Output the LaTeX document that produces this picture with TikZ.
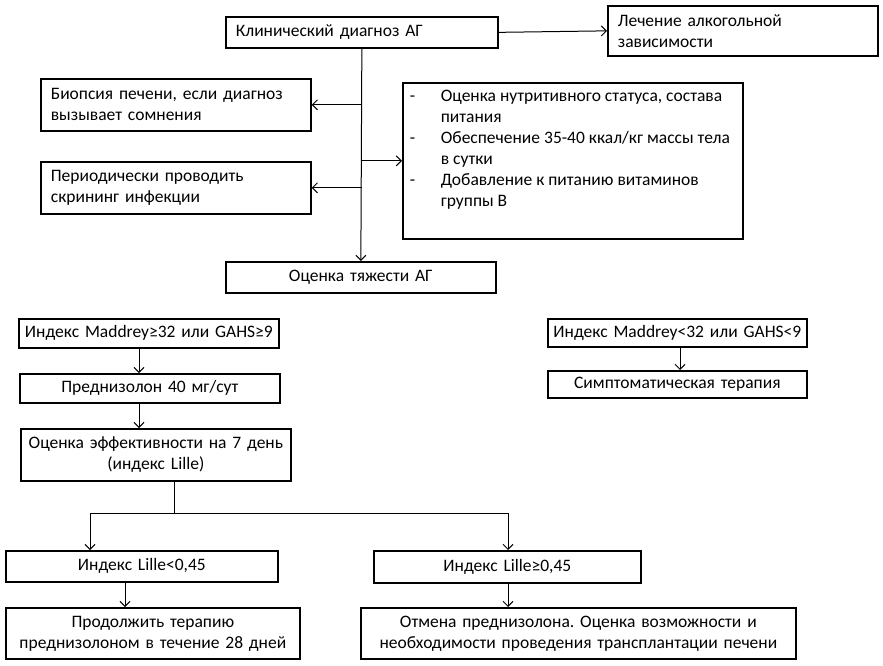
\documentclass[tikz,border=0pt]{standalone}
\usepackage{fontspec}
\setmainfont{Carlito}
\frenchspacing
\usetikzlibrary{arrows.meta}
\tikzset{
  box/.style={draw, line width=1.7pt, rectangle, inner sep=0pt, anchor=north west,
    font=\fontsize{17.5pt}{21pt}\selectfont},
  lbox/.style={box, align=left},
  cbox/.style={box, align=center},
  ln/.style={line width=1pt},
  arr/.style={line width=1pt, -{Straight Barb[length=5pt,width=10pt,line width=1pt]}}
}
\begin{document}
\begin{tikzpicture}[x=1pt,y=-1pt]
\useasboundingbox (0,0) rectangle (883,666);
% top part
\node[lbox, minimum width=272pt, minimum height=31pt, text width=252pt] (A) at (225,16) {Клинический диагноз АГ};
\node[lbox, minimum width=270pt, minimum height=50pt, text width=250pt] (B) at (607,5) {Лечение алкогольной\\зависимости};
\node[lbox, minimum width=270pt, minimum height=52pt, text width=250pt] (C) at (40,78) {Биопсия печени, если диагноз\\вызывает сомнения};
\node[lbox, minimum width=270pt, minimum height=52pt, text width=250pt] (D) at (40,161) {Периодически проводить\\скрининг инфекции};
\node[box, minimum width=340pt, minimum height=156pt] (E) at (402,82) {\parbox[c][156pt][t]{326pt}{\vspace*{4pt}\begin{tabular}[t]{@{}p{31pt}@{}l@{}}
- & Оценка нутритивного статуса, состава\\
 & питания\\
- & Обеспечение 35-40 ккал/кг массы тела\\
 & в сутки\\
- & Добавление к питанию витаминов\\
 & группы В
\end{tabular}}};
\node[cbox, minimum width=270pt, minimum height=31pt, text width=250pt] (F) at (225,261) {Оценка тяжести АГ};
% lower part
\node[cbox, minimum width=260pt, minimum height=29pt, text width=250pt] (G) at (18,318) {Индекс Maddrey≥32 или GAHS≥9};
\node[cbox, minimum width=260pt, minimum height=29pt, text width=250pt] (H) at (19,373) {Преднизолон 40 мг/сут};
\node[cbox, minimum width=270pt, minimum height=52pt, text width=260pt] (I) at (20,428) {Оценка эффективности на 7 день\\(индекс Lille)};
\node[cbox, minimum width=259pt, minimum height=28pt, text width=250pt] (J) at (547,318) {Индекс Maddrey<32 или GAHS<9};
\node[cbox, minimum width=259pt, minimum height=27pt, text width=250pt] (K) at (547,370) {Симптоматическая терапия};
\node[cbox, minimum width=272pt, minimum height=31pt, text width=260pt] (L) at (5,550) {Индекс Lille<0,45};
\node[cbox, minimum width=267pt, minimum height=32pt, text width=257pt] (M) at (373,550) {Индекс Lille≥0,45};
\node[cbox, minimum width=294pt, minimum height=51pt, text width=284pt] (N) at (5,607) {Продолжить терапию\\преднизолоном в течение 28 дней};
\node[cbox, minimum width=435pt, minimum height=51pt, text width=430pt] (O) at (360,607) {Отмена преднизолона. Оценка возможности и\\необходимости проведения трансплантации печени};
% helper coordinates
\coordinate (s) at (174,513);
\coordinate (jl) at (90,513);
\coordinate (jr) at (508,513);
\coordinate (xg) at (139,0);
\coordinate (xl) at (125,0);
\coordinate (xk) at (680,0);
% connectors top
\draw[arr] (A.east) -- (B.west);
\draw[arr] (A.south) -- (F.north);
\draw[arr] (A.south |- C.east) -- (C.east);
\draw[arr] (A.south |- D.east) -- (D.east);
\draw[arr] (A.south |- E.west) -- (E.west);
% connectors bottom
\draw[arr] (G.south -| xg) -- (H.north -| xg);
\draw[arr] (H.south -| xg) -- (I.north -| xg);
\draw[ln] (I.south -| s) -- (s);
\draw[arr] (s) -- (jl) -- (jl |- L.north);
\draw[arr] (s) -- (jr) -- (jr |- M.north);
\draw[arr] (L.south -| xl) -- (N.north -| xl);
\draw[arr] (M.south -| jr) -- (O.north -| jr);
\draw[arr] (J.south -| xk) -- (K.north -| xk);
\end{tikzpicture}
\end{document}
